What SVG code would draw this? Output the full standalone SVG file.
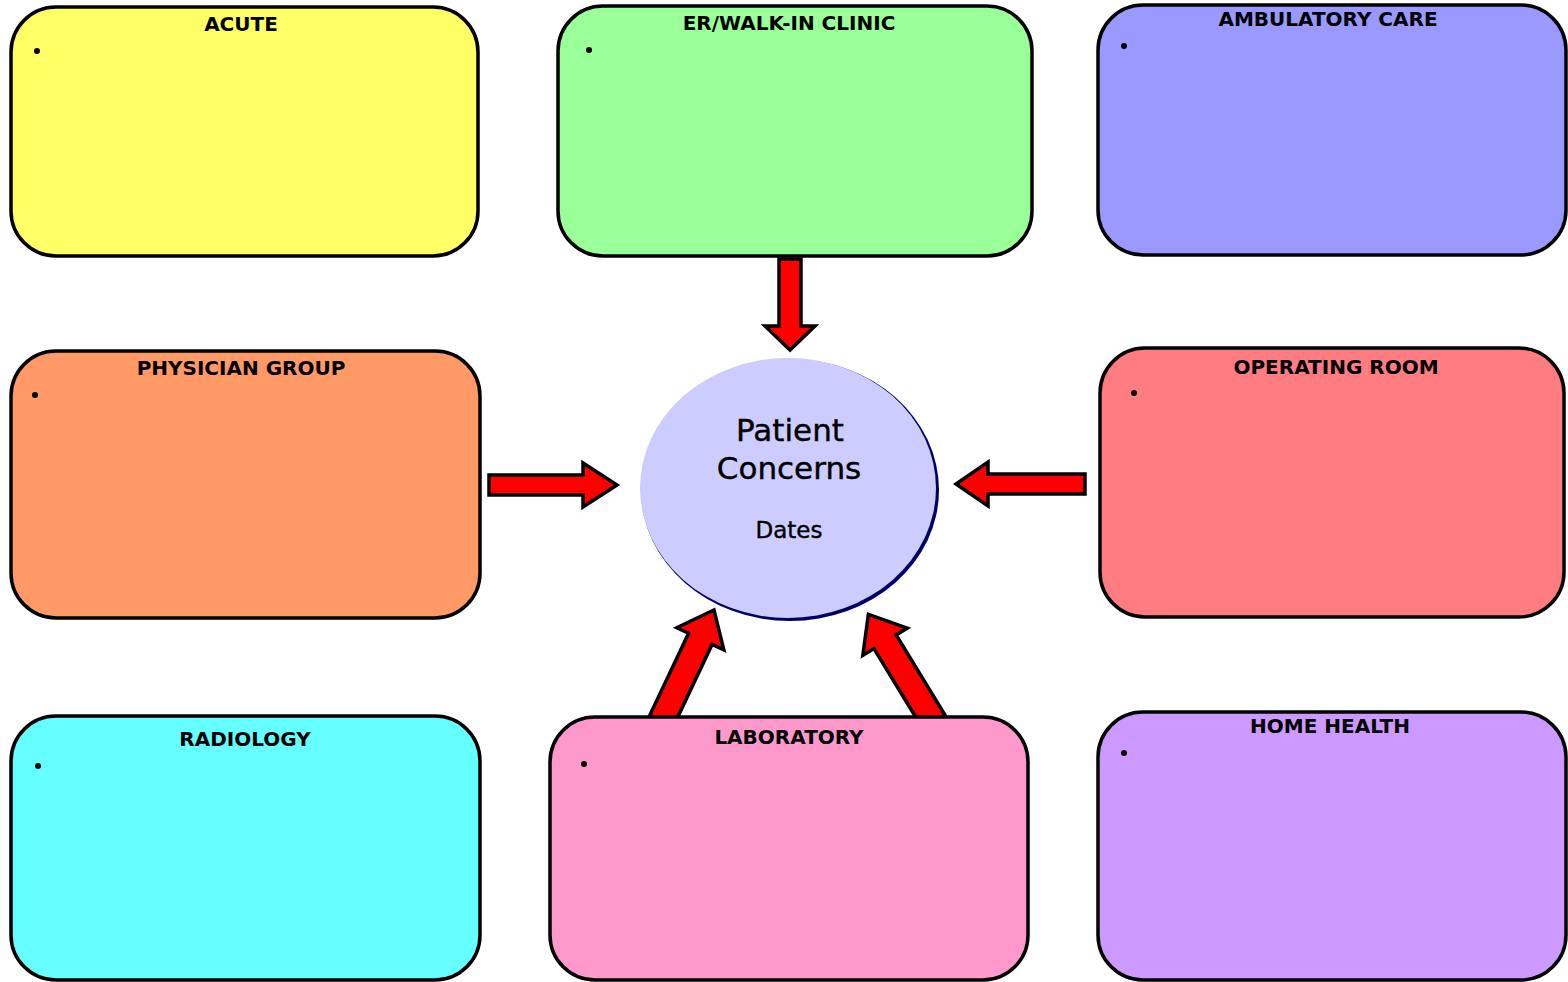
<svg xmlns="http://www.w3.org/2000/svg" width="1568" height="982" viewBox="0 0 1568 982">
<style>
.box{stroke:#000;stroke-width:3.5}
.ttl{font-family:"DejaVu Sans",Verdana,sans-serif;font-weight:bold;font-size:20px;text-anchor:middle;fill:#000}
.arr{fill:#FF0000;stroke:#000;stroke-width:3.5;stroke-linejoin:miter}
.ctr{font-family:"DejaVu Sans",Verdana,sans-serif;text-anchor:middle;fill:#000;stroke:#000;stroke-width:0.4}
</style>
<rect width="1568" height="982" fill="#fff"/>
<g id="connectors">
<polygon class="arr" points="779,259 801,259 801,326 815,326 790,350 765,326 779,326"/>
<polygon class="arr" points="489,475 583,475 583,463 617,485 583,507 583,495 489,495"/>
<polygon class="arr" points="1085,474 988,474 988,462 956,484 988,506 988,494 1085,494"/>
<polygon class="arr" transform="translate(661,722) rotate(-64.7)" points="0,-13 92,-13 92,-26 124,0 92,26 92,13 0,13"/>
<polygon class="arr" transform="translate(934,722) rotate(-121.4)" points="0,-13 94,-13 94,-26 126,0 94,26 94,13 0,13"/>
</g>
<g id="center">
<ellipse cx="790" cy="490" rx="149" ry="131" fill="#000066"/>
<ellipse cx="788" cy="488" rx="148" ry="130" fill="#CCCCFF"/>
<text class="ctr" x="790" y="441" font-size="31">Patient</text>
<text class="ctr" x="789" y="479" font-size="31">Concerns</text>
<text class="ctr" x="789" y="538" font-size="23">Dates</text>
</g>
<g id="acute">
<rect class="box" x="11" y="7" width="467" height="249" rx="45" fill="#FFFF66"/>
<text class="ttl" x="241" y="31">ACUTE</text>
<circle cx="37" cy="51" r="3"/>
</g>
<g id="er">
<rect class="box" x="558" y="6" width="474" height="250" rx="45" fill="#99FF99"/>
<text class="ttl" x="789" y="30">ER/WALK-IN CLINIC</text>
<circle cx="589" cy="50" r="3"/>
</g>
<g id="ambulatory">
<rect class="box" x="1098" y="5" width="468" height="250" rx="45" fill="#9999FF"/>
<text class="ttl" x="1328" y="26">AMBULATORY CARE</text>
<circle cx="1124" cy="46" r="3"/>
</g>
<g id="physician">
<rect class="box" x="11" y="351" width="469" height="267" rx="45" fill="#FF9966"/>
<text class="ttl" x="241" y="375">PHYSICIAN GROUP</text>
<circle cx="35" cy="395" r="3"/>
</g>
<g id="operating">
<rect class="box" x="1100" y="348" width="464" height="269" rx="45" fill="#FF7C80"/>
<text class="ttl" x="1336" y="374">OPERATING ROOM</text>
<circle cx="1134" cy="393" r="3"/>
</g>
<g id="radiology">
<rect class="box" x="11" y="716" width="469" height="264" rx="45" fill="#66FFFF"/>
<text class="ttl" x="245" y="746">RADIOLOGY</text>
<circle cx="38" cy="766" r="3"/>
</g>
<g id="laboratory">
<rect class="box" x="550" y="717" width="478" height="263" rx="45" fill="#FF99CC"/>
<text class="ttl" x="789" y="744">LABORATORY</text>
<circle cx="584" cy="764" r="3"/>
</g>
<g id="home">
<rect class="box" x="1098" y="712" width="468" height="268" rx="45" fill="#CC99FF"/>
<text class="ttl" x="1330" y="733">HOME HEALTH</text>
<circle cx="1124" cy="753" r="3"/>
</g>
</svg>
